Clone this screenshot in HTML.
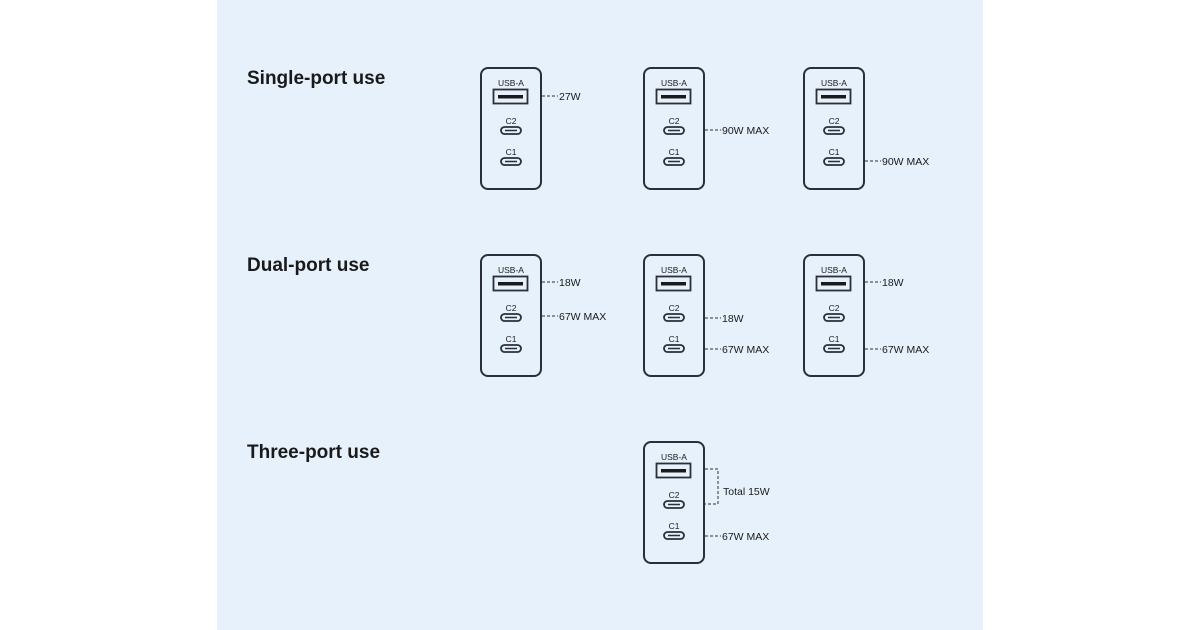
<!DOCTYPE html>
<html><head><meta charset="utf-8"><style>
html,body{margin:0;padding:0;background:#fff;}
svg{display:block}
text{font-family:"Liberation Sans","DejaVu Sans",sans-serif;fill:#1a1a1a}
</style></head><body>
<svg width="1200" height="630" viewBox="0 0 1200 630" xmlns="http://www.w3.org/2000/svg">
<defs>
<g id="dev">
  <rect x="1" y="1" width="60" height="121" rx="7" fill="none" stroke="#2b2f36" stroke-width="2"/>
  <text x="31" y="19" font-size="8.5" text-anchor="middle">USB-A</text>
  <rect x="13.5" y="22.5" width="34" height="14" fill="none" stroke="#2b2f36" stroke-width="1.8"/>
  <rect x="18" y="28" width="25" height="3.5" fill="#1a1a1a"/>
  <text x="31" y="57" font-size="8.5" text-anchor="middle">C2</text>
  <rect x="21" y="60" width="20" height="7" rx="3.5" fill="none" stroke="#2b2f36" stroke-width="1.8"/>
  <line x1="25" y1="63.5" x2="37" y2="63.5" stroke="#2b2f36" stroke-width="1.5"/>
  <text x="31" y="88" font-size="8.5" text-anchor="middle">C1</text>
  <rect x="21" y="91" width="20" height="7" rx="3.5" fill="none" stroke="#2b2f36" stroke-width="1.8"/>
  <line x1="25" y1="94.5" x2="37" y2="94.5" stroke="#2b2f36" stroke-width="1.5"/>
</g>
</defs>
<rect x="217" y="0" width="766" height="630" fill="#e6f1fc"/>
<g font-weight="bold" font-size="19">
<text x="247" y="84">Single-port use</text>
<text x="247" y="271">Dual-port use</text>
<text x="247" y="458">Three-port use</text>
</g>
<use href="#dev" x="480" y="67"/>
<use href="#dev" x="643" y="67"/>
<use href="#dev" x="803" y="67"/>
<use href="#dev" x="480" y="254"/>
<use href="#dev" x="643" y="254"/>
<use href="#dev" x="803" y="254"/>
<use href="#dev" x="643" y="441"/>
<g stroke="#2b2f36" stroke-width="1" stroke-dasharray="3,2" fill="none">
<line x1="542" y1="96" x2="558" y2="96"/>
<line x1="705" y1="130" x2="721" y2="130"/>
<line x1="865" y1="161" x2="881" y2="161"/>
<line x1="542" y1="282" x2="558" y2="282"/>
<line x1="542" y1="316" x2="558" y2="316"/>
<line x1="705" y1="318" x2="721" y2="318"/>
<line x1="705" y1="349" x2="721" y2="349"/>
<line x1="865" y1="282" x2="881" y2="282"/>
<line x1="865" y1="349" x2="881" y2="349"/>
<polyline points="705,469 718,469 718,504 705,504"/>
<line x1="705" y1="536" x2="721" y2="536"/>
</g>
<g font-size="10.5">
<text x="559" y="100">27W</text>
<text x="722" y="134">90W MAX</text>
<text x="882" y="165">90W MAX</text>
<text x="559" y="286">18W</text>
<text x="559" y="320">67W MAX</text>
<text x="722" y="322">18W</text>
<text x="722" y="353">67W MAX</text>
<text x="882" y="286">18W</text>
<text x="882" y="353">67W MAX</text>
<text x="723" y="495">Total 15W</text>
<text x="722" y="540">67W MAX</text>
</g>
</svg>
</body></html>
